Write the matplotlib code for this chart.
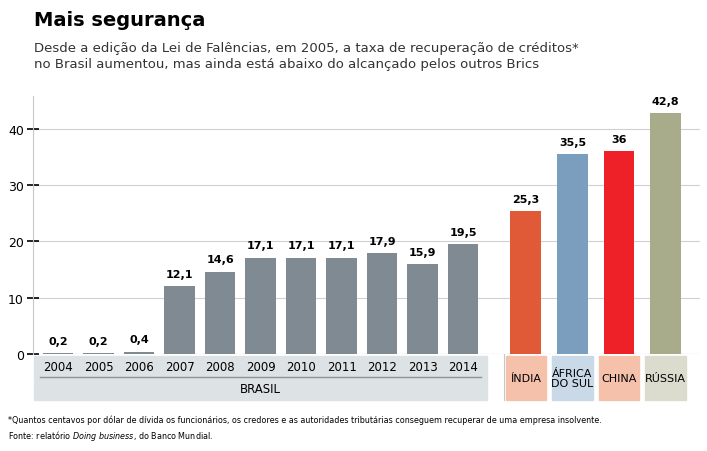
import numpy as np
import matplotlib.pyplot as plt
from matplotlib.transforms import blended_transform_factory

plt.rcParams['font.family'] = ['Liberation Sans Narrow', 'DejaVu Sans']

# ─────────────────────────────────────────────────────────────
# Data: recovery rate (cents per dollar)
# ─────────────────────────────────────────────────────────────
years = ["2004", "2005", "2006", "2007", "2008", "2009", "2010", "2011", "2012", "2013", "2014"]
brasil = [0.2, 0.2, 0.4, 12.1, 14.6, 17.1, 17.1, 17.1, 17.9, 15.9, 19.5]
brics = {
    "ÍNDIA": (25.3, "#e05a37", "#f5c1aa"),
    "ÁFRICA\nDO SUL": (35.5, "#7b9ebf", "#cad9e8"),
    "CHINA": (36.0, "#ee2028", "#f5c1aa"),
    "RÚSSIA": (42.8, "#a9ac8b", "#dcdcce"),
}

fig = plt.figure(figsize=(7.07, 4.52), dpi=100)
ax = fig.add_axes([33 / 707, 97 / 452, 667 / 707, 258 / 452])

xb = np.arange(len(brasil))
xo = np.array([11.55, 12.7, 13.85, 15.0])
w = 0.76

ax.bar(xb, brasil, width=w, color="#7f8a92", zorder=3)
for x, (name, (v, c, _)) in zip(xo, brics.items()):
    ax.bar(x, v, width=w, color=c, zorder=3)

def fmt(v):
    s = f"{v:.1f}".replace(".", ",")
    return s[:-2] if s.endswith(",0") else s

for x, v in zip(list(xb) + list(xo), brasil + [b[0] for b in brics.values()]):
    ax.text(x, v + 1.3, fmt(v), ha="center", va="bottom", fontsize=8, fontweight="bold", zorder=4)

ax.set_xlim(-0.62, 15.85)
ax.set_ylim(0, 45.8)
ax.set_yticks([0, 10, 20, 30, 40])
ax.set_yticklabels(["0", "10", "20", "30", "40"], fontsize=9)
ax.tick_params(axis="y", length=9, width=1.2, direction="inout", pad=2)
ax.tick_params(axis="x", bottom=False, labelbottom=False)
ax.grid(axis="y", color="#d0d0d0", lw=0.8, zorder=0)
for s in ["top", "right", "bottom"]:
    ax.spines[s].set_visible(False)
ax.spines["left"].set_color("#c8c8c8")
ax.axhline(0, color="#c8c8c8", lw=0.8, zorder=2)

# category boxes under the axis
tr = blended_transform_factory(ax.transData, ax.transAxes)
ax.add_patch(plt.Rectangle((-0.6, -0.177), 11.2, 0.168, transform=tr,
                           color="#dde2e5", clip_on=False, zorder=1))
ax.plot([-0.45, 10.45], [-0.09, -0.09], transform=tr, color="#8a949b", lw=1, clip_on=False)
for x, y in zip(xb, years):
    ax.text(x, -0.05, y, transform=tr, ha="center", va="center", fontsize=8.5)
ax.text(5, -0.135, "BRASIL", transform=tr, ha="center", va="center", fontsize=8.5)
ax.plot([11.0, 11.0], [-0.177, 0.0], transform=tr, color="#c8c8c8", lw=0.8, clip_on=False)
for x, (name, (v, c, bg)) in zip(xo, brics.items()):
    ax.add_patch(plt.Rectangle((x - 0.5, -0.177), 1.0, 0.168, transform=tr,
                               color=bg, clip_on=False, zorder=1))
    ax.text(x, -0.093, name, transform=tr, ha="center", va="center", fontsize=8, linespacing=1.1)

fig.text(0.048, 0.955, "Mais segurança", fontsize=14, fontweight="bold", va="center")
fig.text(0.048, 0.875, "Desde a edição da Lei de Falências, em 2005, a taxa de recuperação de créditos*\n"
         "no Brasil aumentou, mas ainda está abaixo do alcançado pelos outros Brics",
         fontsize=9.5, va="center", color="#333333", linespacing=1.3)
fig.text(0.012, 0.05, "*Quantos centavos por dólar de dívida os funcionários, os credores e as autoridades "
         "tributárias conseguem recuperar de uma empresa insolvente.\nFonte: relatório $\\it{Doing\\ business}$, "
         "do Banco Mundial.", fontsize=5.8, va="center", linespacing=1.4)

fig.savefig("out.png", dpi=100)
